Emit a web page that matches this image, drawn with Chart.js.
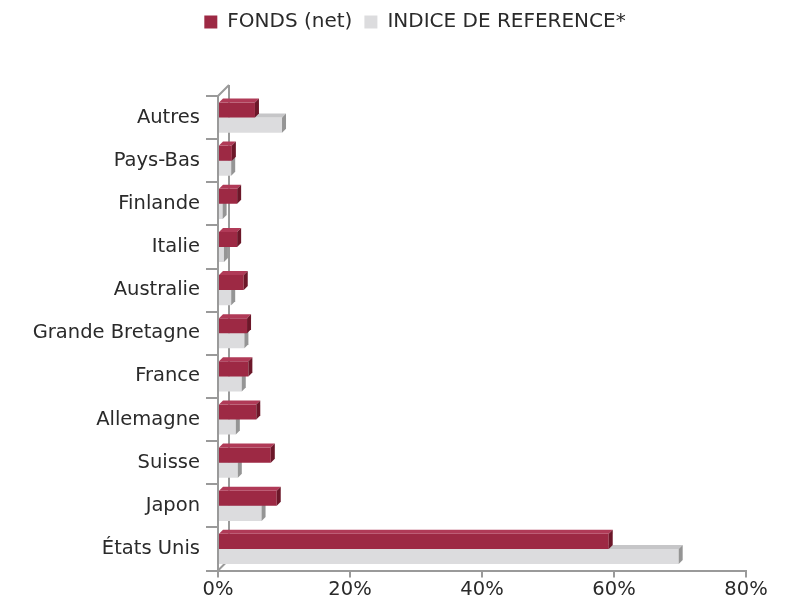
<!DOCTYPE html>
<html>
<head>
<meta charset="utf-8">
<script src="https://cdn.jsdelivr.net/npm/chart.js@4"></script>
<style>
  html, body { margin: 0; padding: 0; background: #fff; }
  #wrap { width: 790px; height: 603px; }
</style>
</head>
<body>
<div id="wrap"><canvas id="allocChart" width="790" height="603"></canvas></div>
<script>
// pays (du haut vers le bas)
const pays = ["Autres", "Pays-Bas", "Finlande", "Italie", "Australie", "Grande Bretagne",
              "France", "Allemagne", "Suisse", "Japon", "États Unis"];
// poids en %
const fonds = [5.6, 2.1, 2.9, 2.9, 3.9, 4.4, 4.6, 5.8, 8.0, 8.9, 59.2];
const indice = [9.7, 2.0, 0.7, 0.9, 2.0, 4.0, 3.6, 2.7, 3.0, 6.6, 69.8];
const xTicks = [0, 20, 40, 60, 80];

const rouge = "#9d2944";
const gris = "#dcdcde";
const axisGrey = "#9a9a9a";
const FONT = "'DejaVu Sans', sans-serif";

// 3D faces for each bar (top + right side), drawn from element positions
const depth = 4;
const sideColors = [
  { top: "#b03a57", side: "#6c1729" },
  { top: "#c6c6c8", side: "#959595" }
];
const bars3d = {
  id: "bars3d",
  afterDatasetDraw(chart, args) {
    const ctx = chart.ctx;
    const cols = sideColors[args.index];
    args.meta.data.forEach(el => {
      const p = el.getProps(["x", "y", "base", "height"], true);
      const top = p.y - p.height / 2, bot = p.y + p.height / 2;
      ctx.save();
      ctx.fillStyle = cols.top;
      ctx.beginPath();
      ctx.moveTo(p.base, top);
      ctx.lineTo(p.x, top);
      ctx.lineTo(p.x + depth, top - depth);
      ctx.lineTo(p.base + depth, top - depth);
      ctx.closePath();
      ctx.fill();
      ctx.fillStyle = cols.side;
      ctx.beginPath();
      ctx.moveTo(p.x, top);
      ctx.lineTo(p.x + depth, top - depth);
      ctx.lineTo(p.x + depth, bot - depth);
      ctx.lineTo(p.x, bot);
      ctx.closePath();
      ctx.fill();
      ctx.restore();
    });
  }
};

// back wall line + floor diagonals
const wall = {
  id: "wall",
  beforeDatasetsDraw(chart) {
    const ctx = chart.ctx;
    const a = chart.chartArea;
    const x0 = chart.scales.x.getPixelForValue(0);
    const w = 11;
    ctx.save();
    ctx.strokeStyle = axisGrey;
    ctx.lineWidth = 2;
    ctx.beginPath();
    ctx.moveTo(x0 + w, a.top - w);
    ctx.lineTo(x0 + w, a.bottom - w);
    ctx.moveTo(x0, a.top);
    ctx.lineTo(x0 + w, a.top - w);
    ctx.moveTo(x0, a.bottom);
    ctx.lineTo(x0 + w, a.bottom - w);
    ctx.stroke();
    ctx.restore();
  }
};

// more room under the legend, and legend centred a bit further right
const legendGap = {
  id: "legendGap",
  beforeInit(chart) {
    const lg = chart.legend;
    const fit = lg.fit;
    lg.fit = function () {
      fit.bind(lg)();
      this.height += 54;
    };
    const draw = lg.draw;
    lg.draw = function () {
      chart.ctx.save();
      chart.ctx.translate(37, 0);
      draw.bind(lg)();
      chart.ctx.restore();
    };
  }
};

new Chart(document.getElementById("allocChart"), {
  type: "bar",
  data: {
    labels: pays,
    datasets: [
      { label: "FONDS (net)", data: fonds, backgroundColor: rouge },
      { label: "INDICE DE REFERENCE*", data: indice, backgroundColor: gris }
    ]
  },
  options: {
    indexAxis: "y",
    responsive: false,
    animation: false,
    datasets: { bar: { categoryPercentage: 0.7, barPercentage: 1.0 } },
    layout: { padding: { left: 10, right: 44, top: 0, bottom: 0 } },
    plugins: {
      legend: {
        position: "top",
        labels: {
          boxWidth: 13, boxHeight: 13, padding: 12,
          color: "#2a2a2a", font: { family: FONT, size: 20 }
        }
      },
      tooltip: { enabled: false }
    },
    scales: {
      x: {
        min: 0, max: 80,
        afterBuildTicks: s => { s.ticks = xTicks.map(v => ({ value: v })); },
        ticks: { callback: v => v + "%", color: "#2a2a2a", font: { family: FONT, size: 19.5, lineHeight: 1 }, padding: 3 },
        grid: { drawOnChartArea: false, color: axisGrey, lineWidth: 2, tickLength: 7 },
        border: { color: axisGrey, width: 2 }
      },
      y: {
        afterFit: s => { s.width = 208; },
        ticks: { color: "#2a2a2a", font: { family: FONT, size: 19.5 }, padding: 6 },
        grid: { offset: true, drawOnChartArea: false, color: axisGrey, lineWidth: 2, tickLength: 12 },
        border: { color: axisGrey, width: 2 }
      }
    }
  },
  plugins: [legendGap, wall, bars3d]
});
</script>
</body>
</html>
